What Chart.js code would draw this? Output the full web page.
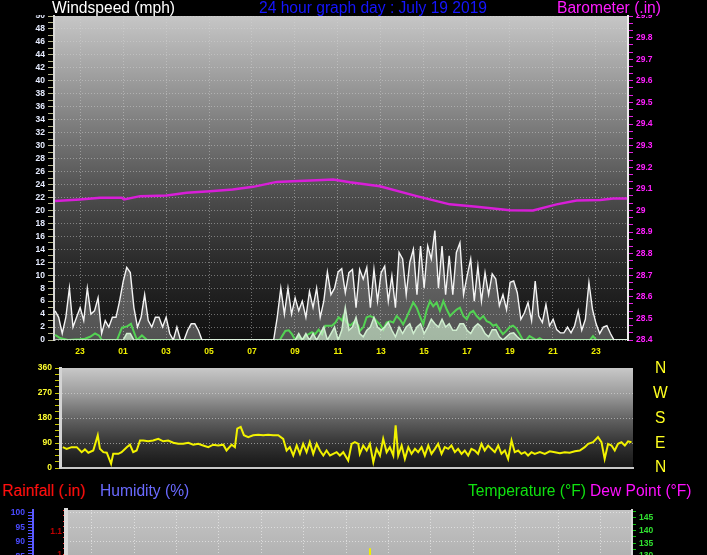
<!DOCTYPE html>
<html>
<head>
<meta charset="utf-8">
<script src="https://cdn.jsdelivr.net/npm/chart.js@4.4.1/dist/chart.umd.min.js"></script>
<style>
  html, body { margin: 0; padding: 0; background: #000; overflow: hidden; width: 707px; height: 555px; }
  canvas { position: absolute; left: 0; }
  .lbl { position: absolute; font-family: "Liberation Sans", Arial, sans-serif; font-size: 15.6px; line-height: 15px; white-space: nowrap; z-index: 3; }
  #strip { position: absolute; left: 0; top: 0; width: 707px; height: 15px; background: #000; z-index: 2; }
</style>
</head>
<body>
<canvas id="windChart" width="707" height="360" style="top:0"></canvas>
<canvas id="dirChart" width="707" height="125" style="top:355px"></canvas>
<canvas id="climateChart" width="707" height="110" style="top:500px"></canvas>

<div id="strip"></div>
<div class="lbl" style="left:52px;top:0;color:#ffffff">Windspeed (mph)</div>
<div class="lbl" style="left:259px;top:0;color:#1515ff">24 hour graph day : July 19 2019</div>
<div class="lbl" style="left:557px;top:0;color:#ff1cff">Barometer (.in)</div>

<div class="lbl" style="left:655px;top:360px;color:#ffff20">N</div>
<div class="lbl" style="left:653px;top:385px;color:#ffff20">W</div>
<div class="lbl" style="left:655px;top:410px;color:#ffff20">S</div>
<div class="lbl" style="left:655px;top:435px;color:#ffff20">E</div>
<div class="lbl" style="left:655px;top:459px;color:#ffff20">N</div>

<div class="lbl" style="left:2px;top:483px;color:#ff1010">Rainfall (.in)</div>
<div class="lbl" style="left:100px;top:483px;color:#6a6aff">Humidity (%)</div>
<div class="lbl" style="left:468px;top:483px;color:#10e010">Temperature (°F)</div>
<div class="lbl" style="left:590px;top:483px;color:#ff10ff">Dew Point (°F)</div>

<script>
// time axis, hours relative to midnight of July 19 (-1 = 23:00 the day before)
const hourMin = -2.21;
const hourMax = 24.49;
const hourTicks = [-1, 1, 3, 5, 7, 9, 11, 13, 15, 17, 19, 21, 23];
const hourLabels = ['23', '01', '03', '05', '07', '09', '11', '13', '15', '17', '19', '21', '23'];

const windTicks = [0, 2, 4, 6, 8, 10, 12, 14, 16, 18, 20, 22, 24, 26, 28, 30, 32, 34, 36, 38, 40, 42, 44, 46, 48, 50];
const baroTicks = [28.4, 28.5, 28.6, 28.7, 28.8, 28.9, 29, 29.1, 29.2, 29.3, 29.4, 29.5, 29.6, 29.7, 29.8, 29.9];
const dirTicks = [0, 90, 180, 270, 360];
const humidityTicks = [85, 90, 95, 100];
const rainTicks = [1, 1.1];
const tempTicks = [130, 135, 140, 145];

// gust and wind speed, one reading every 10 minutes from gustStart
const gustStart = -2.16;
const gustStep = 1 / 6;
const gustValues = [
  4.5, 3.5, 1, 3.5, 8, 2, 3.5, 5, 3, 8, 4, 4.5, 6.5,
  1, 3, 2, 3.5, 3.5,
  6, 9, 11.2, 10.4, 5,
  2, 3.5, 7, 3, 2, 3.5, 3.5, 2,
  3.5, 1, 0, 2, 0, 0, 1.5,
  2.5, 2.5, 1.5,
  0, 0, 0, 0, 0, 0, 0, 0, 0, 0, 0, 0, 0, 0, 0, 0, 0, 0, 0, 0, 0,
  3.5, 8, 4, 8, 4, 6.5, 4.5, 6, 3.5, 7.5, 5, 8, 3.5, 6, 10.5, 7, 8, 10.5, 11,
  7.3, 10.4, 10.9, 5, 10.9, 9.4, 11.2, 5, 10.9, 6,
  10.4, 11.4, 6, 9.9, 5, 13.5, 12.5, 7, 12, 14,
  7, 14.5, 8, 14.5, 12.5, 16.9, 8, 14.5, 7, 13,
  7, 13.5, 15, 7, 9.9, 12.5, 6, 11.4, 6, 10.4,
  7, 10.2, 9.4, 5.3, 7, 4.7, 8.9, 9.1, 7.3, 3.2,
  4.2, 5.8, 3, 9.1, 3.7, 2.7, 5.5, 2.2, 3.2, 1.6,
  1.1, 1.1, 2, 1.1, 2.2, 4.5, 1.5, 3.2, 8.9, 4.7,
  2.5, 1, 2, 2.2, 1, 0, 0, 0, 0, 0
];
const speedValues = [
  0, 0, 0, 0, 0, 0, 0, 0, 0, 0, 0, 0, 0, 0, 0, 0, 0, 0, 0, 0,
  1, 1,
  0, 0, 0, 0, 0, 0, 0, 0, 0, 0, 0, 0, 0, 0, 0, 0, 0, 0, 0, 0, 0, 0, 0,
  0, 0, 0, 0, 0, 0, 0, 0, 0, 0, 0, 0, 0, 0, 0, 0, 0, 0, 0, 0, 0, 0, 0,
  1, 0, 1, 0, 1, 0, 1, 2, 0, 1, 2, 0, 1.5, 5,
  1.5, 2, 3.5, 1, 0.5, 1.5, 2, 3.5, 2, 1.5,
  2, 2.7, 1.5, 0.5, 2, 1, 2, 2.5, 1, 2,
  2.5, 1, 2, 3.2, 2.5, 2, 3.2, 2, 2.5, 1.5,
  1.5, 2.5, 2.5, 1.5, 1, 2, 2.5, 2, 1, 0.5,
  1.6, 1.6, 0.5, 0, 0.5, 1, 1.1, 0.5,
  0, 0, 0, 0, 0, 0, 0, 0, 0, 0, 0, 0, 0, 0, 0, 0,
  0, 0, 0, 0, 0, 0, 0, 0, 0, 0, 0, 0, 0, 0, 0, 0
];

// average wind speed
const avgHours = [-2.16, -1.93, -1.56, -1.0, -0.77, -0.53, -0.30, -0.12, 0.02, 0.72, 0.95, 1.19, 1.37, 1.51, 1.65, 1.88, 2.12,
  8.30, 8.40, 8.55, 8.71, 8.86, 9.01, 9.17, 9.33, 9.48, 9.64, 9.79, 9.94, 10.10, 10.26, 10.41, 10.57, 10.72, 10.88, 11.03, 11.19,
  11.25, 11.40, 11.56, 11.79, 11.95, 12.02, 12.18, 12.33, 12.49, 12.64, 12.80, 12.95, 13.11, 13.26, 13.42, 13.57, 13.73, 13.88,
  14.03, 14.19, 14.35, 14.50, 14.66, 14.81, 14.97, 15.13, 15.28, 15.43, 15.59, 15.74, 15.90, 16.06, 16.21, 16.36, 16.52, 16.67,
  16.83, 16.99, 17.14, 17.29, 17.45, 17.60, 17.76, 17.92, 18.07, 18.21, 18.36, 18.52, 18.67, 18.83, 18.98, 19.14, 19.29, 19.45,
  19.60, 19.76, 19.91, 20.07, 20.22, 20.38, 20.53, 22.72, 22.86, 23.01, 24.49];
const avgValues = [0.8, 0.3, 0, 0.1, 0.2, 0.5, 1.0, 0.7, 0, 0, 1.9, 2.1, 2.5, 1.2, 0, 0.7, 0,
  0, 0.6, 1.4, 1.5, 0.9, 0, 0.6, 0, 0.6, 0.9, 1.2, 0.9, 1.6, 0.9, 2.2, 2.2, 2.2, 2.7, 3.5, 3.0,
  3.7, 2.7, 2.2, 2.9, 2.2, 1.4, 2.0, 3.5, 3.7, 3.5, 2.9, 2.4, 1.6, 2.7, 2.9, 2.7, 3.7, 3.2,
  2.4, 3.5, 4.7, 5.8, 5.0, 3.7, 2.4, 4.7, 6.0, 5.2, 5.8, 4.5, 6.0, 4.7, 3.7, 4.2, 4.7, 5.0,
  3.7, 3.2, 4.2, 4.5, 3.7, 3.2, 3.7, 2.9, 2.7, 2.2, 2.4, 1.6, 0.9, 1.4, 2.0, 2.2, 1.8, 0.9,
  0, 0, 0.6, 0.3, 0, 0.3, 0, 0, 0.6, 0, 0];

// barometer (inHg)
const baroHours = [-2.16, -1.0, -0.07, 0.94, 1.05, 1.8, 3.03, 3.96, 5.05, 6.1, 7.05, 8.15, 8.9, 10.0, 10.78,
  11.56, 12.95, 14.66, 16.2, 17.45, 19.0, 20.07, 21.17, 22.1, 23.2, 23.8, 24.45];
const baroValues = [29.043, 29.051, 29.059, 29.059, 29.051, 29.066, 29.069, 29.082, 29.089, 29.097, 29.109, 29.132, 29.135, 29.14, 29.143,
  29.13, 29.112, 29.066, 29.028, 29.017, 29.001, 29.0, 29.028, 29.046, 29.048, 29.055, 29.055];

// wind direction (degrees)
const dirHours = [-2.08, -1.90, -1.67, -1.43, -1.20, -1.05, -0.89, -0.66, -0.45, -0.35, -0.19, -0.03, 0.17, 0.27, 0.51, 0.66,
  0.90, 1.05, 1.20, 1.36, 1.52, 1.67, 1.90, 2.13, 2.37, 2.60, 2.83, 3.07, 3.30, 3.53, 3.77, 4.00, 4.23, 4.46, 4.70, 4.93,
  5.16, 5.40, 5.55, 5.79, 5.94, 6.05, 6.21, 6.36, 6.56, 6.79, 7.03, 7.26, 7.49, 7.72, 7.96, 8.19, 8.35, 8.50, 8.66, 8.82,
  8.97, 9.12, 9.28, 9.43, 9.59, 9.75, 9.90, 10.06, 10.21, 10.37, 10.52, 10.68, 10.83, 10.99, 11.22, 11.38, 11.53, 11.69,
  11.76, 11.92, 12.08, 12.23, 12.39, 12.54, 12.70, 12.85, 13.01, 13.16, 13.32, 13.43, 13.55, 13.71, 13.86, 14.02, 14.17,
  14.33, 14.48, 14.64, 14.79, 14.95, 15.10, 15.26, 15.41, 15.57, 15.72, 15.88, 16.03, 16.19, 16.34, 16.50, 16.65, 16.81,
  16.96, 17.12, 17.27, 17.43, 17.58, 17.74, 17.89, 18.05, 18.21, 18.36, 18.52, 18.67, 18.83, 18.98, 19.14, 19.29, 19.45,
  19.60, 19.76, 19.91, 20.15, 20.38, 20.61, 20.85, 21.08, 21.31, 21.54, 21.78, 22.01, 22.24, 22.40, 22.63, 22.86, 23.02,
  23.17, 23.33, 23.49, 23.64, 23.79, 23.95, 24.11, 24.26, 24.42];
const dirValues = [75, 69, 75, 75, 57, 67, 55, 63, 118, 69, 57, 55, 15, 51, 51, 57,
  75, 84, 57, 63, 99, 99, 96, 99, 105, 96, 99, 91, 87, 87, 91, 84, 87, 81, 75, 84,
  81, 84, 63, 84, 75, 142, 148, 118, 111, 118, 120, 118, 120, 118, 118, 105, 63, 75, 45, 81,
  51, 87, 57, 93, 51, 87, 63, 45, 63, 45, 51, 57, 45, 57, 27, 87, 93, 87,
  51, 81, 63, 87, 21, 69, 45, 105, 57, 75, 45, 154, 45, 81, 33, 75, 51,
  69, 57, 75, 45, 81, 51, 69, 87, 51, 75, 69, 81, 57, 69, 51, 63, 45,
  69, 63, 51, 87, 63, 81, 69, 57, 81, 51, 63, 33, 99, 57, 63, 51, 57,
  45, 57, 51, 57, 51, 60, 57, 53, 57, 55, 60, 63, 75, 87, 93, 111, 93,
  33, 87, 81, 63, 87, 93, 81, 96, 93];

// lone yellow mark in the lower panel (temperature scale)
const spikeHours = [12.13, 12.13];
const spikeValues = [133, 118];

Chart.defaults.font.family = '"Liberation Sans", Arial, sans-serif';
Chart.defaults.animation = false;
Chart.defaults.plugins.legend.display = false;
Chart.defaults.plugins.tooltip.enabled = false;

const tickFont = { size: 8.5, weight: 'bold' };

function stepTicks(min, max, step) {
  const out = [];
  for (let k = 0; min + k * step <= max + 1e-9; k++) out.push({ value: +(min + k * step).toFixed(4) });
  return out;
}
function isMajor(list, v) {
  return list.some(m => Math.abs(m - v) < 1e-6);
}
function plotBackground(stops) {
  return {
    id: 'plotBg',
    beforeDraw(chart) {
      const { ctx, chartArea: a } = chart;
      const g = ctx.createLinearGradient(0, a.top, 0, a.bottom);
      stops.forEach(s => g.addColorStop(s[0], s[1]));
      ctx.save();
      ctx.fillStyle = g;
      ctx.fillRect(a.left, a.top, a.right - a.left, a.bottom - a.top);
      ctx.restore();
    }
  };
}
function points(xs, ys) {
  return ys.map((v, i) => ({ x: xs[i], y: v }));
}
const gustHours = gustValues.map((v, i) => gustStart + i * gustStep);

const gridGray = 'rgba(215,215,215,0.45)';

const timeAxis = {
  type: 'linear',
  min: hourMin,
  max: hourMax,
  afterBuildTicks: s => { s.ticks = hourTicks.map(v => ({ value: v })); },
  afterFit: s => { s.height = 20; },
  grid: { color: gridGray, drawTicks: false },
  border: { display: false, dash: [1, 2] },
  ticks: {
    color: '#f0f000', font: tickFont, padding: 7, autoSkip: false, maxRotation: 0,
    callback: (v, i) => hourLabels[i]
  }
};

// ---------- windspeed + barometer ----------
new Chart(document.getElementById('windChart'), {
  type: 'line',
  data: {
    datasets: [
      { data: points(gustHours, gustValues), borderColor: '#f4f4f4', borderWidth: 1.4,
        backgroundColor: 'rgba(235,235,235,0.3)', fill: 'origin', yAxisID: 'y' },
      { data: points(gustHours, speedValues), borderColor: '#c4f0c4', borderWidth: 1.5,
        backgroundColor: 'rgba(196,240,196,0.65)', fill: 'origin', yAxisID: 'y' },
      { data: points(avgHours, avgValues), borderColor: '#12c812', borderWidth: 2, yAxisID: 'y' },
      { data: points(baroHours, baroValues), borderColor: '#d81ed8', borderWidth: 2.5, yAxisID: 'baro' }
    ]
  },
  options: {
    responsive: false,
    devicePixelRatio: 1,
    layout: { padding: { top: 16, left: 0, right: 0, bottom: 0 } },
    elements: { point: { radius: 0 }, line: { tension: 0 } },
    scales: {
      x: timeAxis,
      y: {
        position: 'left', min: 0, max: 50,
        afterBuildTicks: s => { s.ticks = stepTicks(0, 50, 1); },
        afterFit: s => { s.width = 54; },
        grid: {
          color: c => (c.tick && isMajor(windTicks, c.tick.value)) ? gridGray : 'rgba(0,0,0,0)',
          tickColor: '#b4b48a', tickLength: 6
        },
        border: { color: '#d8d8d8', width: 2, dash: [1, 2] },
        ticks: {
          color: '#e6ecff', font: tickFont, autoSkip: false,
          callback: v => isMajor(windTicks, v) ? String(v) : ''
        }
      },
      baro: {
        position: 'right', min: 28.4, max: 29.9,
        afterBuildTicks: s => { s.ticks = stepTicks(28.4, 29.9, 0.1 / 3); },
        afterFit: s => { s.width = 79; },
        grid: { drawOnChartArea: false, tickColor: '#e020e0', tickLength: 5 },
        border: { color: '#ececec', width: 2 },
        ticks: {
          color: '#ff20ff', font: tickFont, autoSkip: false,
          callback: v => isMajor(baroTicks, v) ? String(+v.toFixed(1)) : ''
        }
      }
    }
  },
  plugins: [plotBackground([[0, '#c6c6c6'], [0.17, '#a2a2a2'], [0.35, '#7a7a7a'], [0.57, '#4a4a4a'], [0.75, '#2c2c2c'], [1, '#101010']])]
});

// ---------- wind direction ----------
new Chart(document.getElementById('dirChart'), {
  type: 'line',
  data: {
    datasets: [
      { data: points(dirHours, dirValues), borderColor: '#f2f200', borderWidth: 2 }
    ]
  },
  options: {
    responsive: false,
    devicePixelRatio: 1,
    layout: { padding: { top: 13, left: 0, right: 74, bottom: 12 } },
    elements: { point: { radius: 0 }, line: { tension: 0 } },
    scales: {
      x: {
        type: 'linear', min: hourMin, max: hourMax,
        afterFit: s => { s.height = 0; },
        grid: { display: false },
        border: { color: '#c8c8c8', width: 2 },
        ticks: { display: false }
      },
      y: {
        min: 0, max: 360,
        afterBuildTicks: s => { s.ticks = stepTicks(0, 360, 22.5); },
        afterFit: s => { s.width = 60; },
        grid: {
          color: c => (c.tick && [90, 180, 270].includes(c.tick.value)) ? 'rgba(225,225,225,0.55)' : 'rgba(0,0,0,0)',
          tickColor: '#c8c800', tickLength: 5
        },
        border: { color: '#d4d4d4', width: 3, dash: [1, 2] },
        ticks: {
          color: '#ffff30', font: tickFont, autoSkip: false,
          callback: v => isMajor(dirTicks, v) ? String(v) : ''
        }
      }
    }
  },
  plugins: [plotBackground([[0, '#c8c8c8'], [0.27, '#9a9a9a'], [0.52, '#606060'], [0.78, '#303030'], [1, '#161616']])]
});

// ---------- rainfall / humidity / temperature (top edge only) ----------
new Chart(document.getElementById('climateChart'), {
  type: 'line',
  data: {
    datasets: [
      { data: points(spikeHours, spikeValues), borderColor: '#f0f000', borderWidth: 2, yAxisID: 'temp' }
    ]
  },
  options: {
    responsive: false,
    devicePixelRatio: 1,
    layout: { padding: { top: 10, left: 0, right: 0, bottom: 0 } },
    elements: { point: { radius: 0 }, line: { tension: 0 } },
    scales: {
      x: {
        type: 'linear', min: hourMin, max: hourMax,
        afterBuildTicks: s => { s.ticks = hourTicks.map(v => ({ value: v })); },
        afterFit: s => { s.height = 0; },
        grid: { color: 'rgba(235,235,235,0.7)', drawTicks: false },
        border: { display: false, dash: [1, 2] },
        ticks: { display: false }
      },
      hum: {
        position: 'left', weight: 2, min: 69.3, max: 101,
        afterBuildTicks: s => { s.ticks = stepTicks(82, 100, 1); },
        afterFit: s => { s.width = 33; },
        grid: {
          color: c => (c.tick && isMajor(humidityTicks, c.tick.value)) ? 'rgba(235,235,235,0.7)' : 'rgba(0,0,0,0)',
          tickColor: '#5050ff', tickLength: 5
        },
        border: { color: '#5a5aff', width: 2, dash: [1, 2] },
        ticks: {
          color: '#4a4aff', font: tickFont, autoSkip: false,
          callback: v => isMajor(humidityTicks, v) ? String(v) : ''
        }
      },
      rain: {
        position: 'left', weight: 1, min: 0.785, max: 1.2,
        afterBuildTicks: s => { s.ticks = stepTicks(0.95, 1.2, 0.025); },
        afterFit: s => { s.width = 33; },
        grid: { drawOnChartArea: false, tickColor: '#ff4040', tickLength: 3 },
        border: { color: '#dadada', width: 4 },
        ticks: {
          color: '#c00000', font: tickFont, autoSkip: false, padding: 1,
          callback: v => isMajor(rainTicks, v) ? String(+v.toFixed(1)) : ''
        }
      },
      temp: {
        position: 'right', min: 112, max: 148,
        afterBuildTicks: s => { s.ticks = stepTicks(127.5, 147.5, 2.5); },
        afterFit: s => { s.width = 75; },
        grid: { drawOnChartArea: false, tickColor: '#10c010', tickLength: 4 },
        border: { color: '#d8d8d8', width: 2 },
        ticks: {
          color: '#30e030', font: tickFont, autoSkip: false,
          callback: v => isMajor(tempTicks, v) ? String(v) : ''
        }
      }
    }
  },
  plugins: [plotBackground([[0, '#c4c4c4'], [0.5, '#b2b2b2'], [1, '#909090']])]
});
</script>
</body>
</html>
